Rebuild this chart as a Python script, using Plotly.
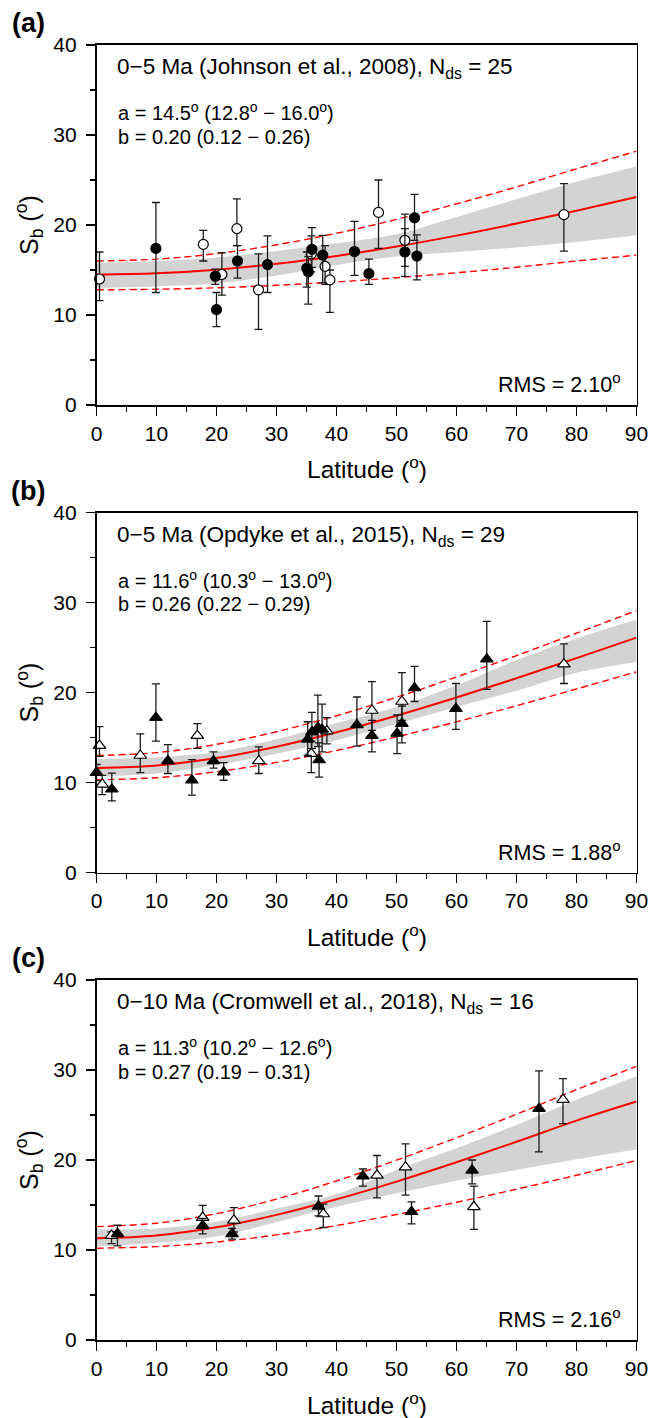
import plotly.graph_objects as go

PAGE_W, PAGE_H = 648, 1418
OFF = 0
W, H = PAGE_W - OFF, PAGE_H - OFF
FONT = "Liberation Sans, Arial, Helvetica, sans-serif"

# ---------------- data ----------------
lat_grid = [0, 10, 20, 30, 40, 50, 60, 70, 80, 90]

# Panel (a) Johnson et al. 2008
a_fit = [14.5, 14.64, 15.04, 15.69, 16.56, 17.61, 18.82, 20.16, 21.59, 23.11]
a_up = [16.0, 16.21, 16.82, 17.80, 19.08, 20.62, 22.35, 24.23, 26.24, 28.2]
a_lo = [12.8, 12.86, 13.02, 13.30, 13.67, 14.14, 14.69, 15.31, 16.0, 16.65]
a_band_hi = [15.8, 16.0, 16.4, 17.1, 17.96, 18.96, 20.9, 22.85, 24.8, 26.5]
a_band_lo = [13.0, 13.2, 13.5, 14.4, 15.56, 16.5, 17.0, 17.5, 18.1, 18.85]
a_f_lat = [9.9, 19.8, 20.0, 23.5, 28.5, 35.05, 35.3, 35.9, 37.7, 43.0, 45.4, 51.4, 53.0, 53.4]
a_f_sb = [17.4, 14.3, 10.6, 16.0, 15.6, 15.2, 14.8, 17.3, 16.65, 17.05, 14.6, 17.0, 20.8, 16.55]
a_f_lo = [12.5, 13.4, 8.7, 14.1, 12.5, 13.1, 11.2, 15.3, 13.6, 14.4, 13.4, 14.3, 18.3, 13.9]
a_f_hi = [22.5, 15.1, 12.5, 17.7, 18.8, 17.0, 16.5, 19.7, 18.85, 20.4, 16.2, 19.6, 23.4, 18.9]
a_o_lat = [0.5, 17.8, 20.9, 23.4, 27.0, 35.8, 38.1, 38.9, 47.0, 51.4, 77.9]
a_o_sb = [14.0, 17.85, 14.5, 19.6, 12.8, 16.8, 15.4, 13.9, 21.4, 18.3, 21.15]
a_o_lo = [11.6, 16.0, 12.2, 17.7, 8.4, 14.8, 13.4, 10.3, 17.4, 15.4, 17.1]
a_o_hi = [17.0, 19.4, 16.9, 22.9, 16.8, 18.8, 17.7, 15.0, 25.0, 21.2, 24.6]

# Panel (b) Opdyke et al. 2015
b_fit = [11.6, 11.89, 12.71, 13.98, 15.58, 17.42, 19.44, 21.58, 23.82, 26.1]
b_up = [13.0, 13.32, 14.24, 15.64, 17.42, 19.47, 21.72, 24.1, 26.59, 29.1]
b_lo = [10.3, 10.53, 11.2, 12.23, 13.55, 15.07, 16.74, 18.53, 20.39, 22.3]
b_band_hi = [12.6, 12.8, 13.4, 14.8, 16.6, 18.4, 20.8, 23.6, 26.0, 28.1]
b_band_lo = [10.7, 11.0, 11.94, 13.2, 14.7, 16.5, 18.4, 20.2, 22.2, 23.4]
b_f_lat = [0.0, 2.55, 9.9, 11.9, 15.9, 19.5, 21.2, 35.2, 35.9, 36.9, 37.1, 37.6, 43.4, 45.9, 50.1, 50.9, 53.0, 59.9, 65.05]
b_f_sb = [11.1, 9.25, 17.2, 12.4, 10.25, 12.4, 11.15, 14.8, 15.6, 16.1, 12.5, 15.9, 16.4, 15.2, 15.45, 16.55, 20.5, 18.2, 23.7]
b_f_lo = [10.2, 7.95, 14.6, 11.0, 8.6, 11.6, 10.25, 13.0, 13.8, 14.0, 10.6, 13.4, 14.05, 13.4, 13.2, 14.4, 19.0, 15.9, 20.35]
b_f_hi = [12.0, 11.05, 20.95, 14.2, 12.55, 13.4, 12.2, 16.75, 17.8, 19.7, 14.4, 18.7, 19.5, 16.9, 17.5, 18.5, 22.9, 21.0, 27.9]
b_o_lat = [0.5, 0.95, 7.3, 16.8, 27.05, 35.8, 38.4, 45.9, 50.9, 77.9]
b_o_sb = [14.1, 9.8, 13.0, 15.2, 12.4, 13.2, 15.7, 18.0, 19.0, 23.15]
b_o_lo = [12.9, 8.65, 11.1, 13.8, 11.0, 11.1, 14.3, 15.8, 16.9, 21.0]
b_o_hi = [16.2, 10.8, 15.4, 16.55, 13.95, 14.6, 17.2, 21.2, 22.2, 25.4]

# Panel (c) Cromwell et al. 2018
c_fit = [11.3, 11.62, 12.52, 13.90, 15.63, 17.6, 19.75, 22.02, 24.38, 26.5]
c_up = [12.6, 12.98, 14.04, 15.66, 17.68, 19.98, 22.47, 25.09, 27.82, 30.4]
c_lo = [10.2, 10.38, 10.88, 11.68, 12.72, 13.94, 15.30, 16.76, 18.31, 19.95]
c_band_hi = [12.3, 12.4, 13.15, 14.6, 16.2, 18.9, 21.3, 23.9, 26.7, 29.3]
c_band_lo = [10.4, 10.8, 11.5, 13.1, 14.8, 16.3, 17.7, 18.9, 20.07, 21.2]
c_f_lat = [3.5, 17.7, 22.6, 37.0, 44.4, 52.5, 62.6, 73.75]
c_f_sb = [11.8, 12.7, 11.8, 14.85, 18.2, 14.25, 18.85, 25.7]
c_f_lo = [10.45, 11.8, 11.2, 13.8, 17.1, 12.9, 17.35, 20.9]
c_f_hi = [12.75, 13.5, 12.4, 16.0, 19.0, 15.35, 20.0, 29.9]
c_o_lat = [2.5, 17.7, 22.9, 37.8, 46.75, 51.5, 62.9, 77.75]
c_o_sb = [11.6, 13.6, 13.3, 14.0, 18.3, 19.2, 14.8, 26.7]
c_o_lo = [10.7, 12.5, 12.0, 12.5, 15.8, 16.1, 12.3, 24.05]
c_o_hi = [12.0, 14.95, 14.7, 15.1, 20.5, 21.8, 17.1, 29.05]

x_ticks = [0, 10, 20, 30, 40, 50, 60, 70, 80, 90]
y_ticks = [0, 10, 20, 30, 40]

panel_letters = ["(a)", "(b)", "(c)"]
titles = ["0\u22125 Ma (Johnson et al., 2008), N<sub>ds</sub> = 25",
          "0\u22125 Ma (Opdyke et al., 2015), N<sub>ds</sub> = 29",
          "0\u221210 Ma (Cromwell et al., 2018), N<sub>ds</sub> = 16"]
a_texts = ["a = 14.5<sup>o</sup> (12.8<sup>o</sup> \u2212 16.0<sup>o</sup>)",
           "a = 11.6<sup>o</sup> (10.3<sup>o</sup> \u2212 13.0<sup>o</sup>)",
           "a = 11.3<sup>o</sup> (10.2<sup>o</sup> \u2212 12.6<sup>o</sup>)"]
b_texts = ["b = 0.20 (0.12 \u2212 0.26)",
           "b = 0.26 (0.22 \u2212 0.29)",
           "b = 0.27 (0.19 \u2212 0.31)"]
rms_texts = ["RMS = 2.10<sup>o</sup>", "RMS = 1.88<sup>o</sup>", "RMS = 2.16<sup>o</sup>"]

panels = [
    dict(fit=a_fit, up=a_up, lo=a_lo, bh=a_band_hi, bl=a_band_lo,
         f=(a_f_lat, a_f_sb, a_f_lo, a_f_hi), o=(a_o_lat, a_o_sb, a_o_lo, a_o_hi), sym="circle"),
    dict(fit=b_fit, up=b_up, lo=b_lo, bh=b_band_hi, bl=b_band_lo,
         f=(b_f_lat, b_f_sb, b_f_lo, b_f_hi), o=(b_o_lat, b_o_sb, b_o_lo, b_o_hi), sym="triangle-up"),
    dict(fit=c_fit, up=c_up, lo=c_lo, bh=c_band_hi, bl=c_band_lo,
         f=(c_f_lat, c_f_sb, c_f_lo, c_f_hi), o=(c_o_lat, c_o_sb, c_o_lo, c_o_hi), sym="triangle-up"),
]

# ---------------- layout geometry (page pixels) ----------------
X0, X1 = 96.5, 636.5
tops = [45.0, 512.5, 980.0]
PH = 360.0


def px(x):
    return (x - OFF) / W


def py(y):
    return 1 - (y - OFF) / H


fig = go.Figure()
layout = dict(width=W, height=H, margin=dict(l=0, r=0, t=0, b=0, autoexpand=False),
              paper_bgcolor="white", plot_bgcolor="white", showlegend=False,
              font=dict(family=FONT, color="black"))
annotations = []

for i, p in enumerate(panels):
    n = "" if i == 0 else str(i + 1)
    xa, ya = "x" + n, "y" + n
    top = tops[i]
    bot = top + PH
    layout["xaxis" + n] = dict(
        domain=[px(X0), px(X1)], range=[0, 90], anchor=ya, automargin=False,
        ticklabeloverflow="allow",
        tickmode="array", tickvals=x_ticks, ticks="outside", ticklen=9, tickwidth=1.5,
        tickcolor="black", showline=True, linewidth=1.6, linecolor="black", mirror=True,
        showgrid=False, zeroline=False, tickfont=dict(size=21, family=FONT, color="black"),
        minor=dict(dtick=5, tick0=0, ticks="outside", ticklen=5, tickwidth=1.5,
                   tickcolor="black", showgrid=False),
        fixedrange=True)
    layout["yaxis" + n] = dict(
        domain=[py(bot), py(top)], range=[0, 40], anchor=xa, automargin=False,
        ticklabeloverflow="allow",
        tickmode="array", tickvals=y_ticks, ticks="outside", ticklen=9, tickwidth=1.5,
        tickcolor="black", showline=True, linewidth=1.6, linecolor="black", mirror=True,
        showgrid=False, zeroline=False, tickfont=dict(size=21, family=FONT, color="black"),
        ticklabelstandoff=5,
        minor=dict(dtick=5, tick0=0, ticks="outside", ticklen=5, tickwidth=1.5,
                   tickcolor="black", showgrid=False),
        fixedrange=True)

    # gray band
    fig.add_trace(go.Scatter(x=lat_grid, y=p["bl"], mode="lines",
                             line=dict(width=0, color="#d3d3d3", shape="spline"),
                             xaxis=xa, yaxis=ya, hoverinfo="skip"))
    fig.add_trace(go.Scatter(x=lat_grid, y=p["bh"], mode="lines", fill="tonexty",
                             fillcolor="#d3d3d3",
                             line=dict(width=0, color="#d3d3d3", shape="spline"),
                             xaxis=xa, yaxis=ya, hoverinfo="skip"))
    # dashed bounds
    for arr in (p["up"], p["lo"]):
        fig.add_trace(go.Scatter(x=lat_grid, y=arr, mode="lines",
                                 line=dict(width=1.4, color="#ff0000", dash="7px,4px", shape="spline"),
                                 xaxis=xa, yaxis=ya, hoverinfo="skip"))
    # fitted curve
    fig.add_trace(go.Scatter(x=lat_grid, y=p["fit"], mode="lines",
                             line=dict(width=2, color="#ff0000", shape="spline"),
                             xaxis=xa, yaxis=ya, hoverinfo="skip"))

    size = 10 if p["sym"] == "circle" else 11
    for key, fill in (("o", "white"), ("f", "black")):
        lat, sb, lo, hi = p[key]
        fig.add_trace(go.Scatter(
            x=lat, y=sb, mode="markers", cliponaxis=False,
            marker=dict(symbol=p["sym"], size=size, color=fill,
                        line=dict(color="black", width=1.2)),
            error_y=dict(type="data", symmetric=False,
                         array=[h - s for h, s in zip(hi, sb)],
                         arrayminus=[s - l for s, l in zip(sb, lo)],
                         color="#1a1a1a", thickness=1.3, width=4),
            xaxis=xa, yaxis=ya))

    # texts
    annotations += [
        dict(text=titles[i], x=3.0, y=37.4, xref=xa, yref=ya, xanchor="left", yanchor="middle",
             showarrow=False, font=dict(size=22.5, family=FONT, color="black")),
        dict(text=a_texts[i], x=3.2, y=32.6, xref=xa, yref=ya, xanchor="left", yanchor="middle",
             showarrow=False, font=dict(size=20, family=FONT, color="black")),
        dict(text=b_texts[i], x=3.2, y=29.8, xref=xa, yref=ya, xanchor="left", yanchor="middle",
             showarrow=False, font=dict(size=20, family=FONT, color="black")),
        dict(text=rms_texts[i], x=87.8, y=2.4, xref=xa, yref=ya, xanchor="right", yanchor="middle",
             showarrow=False, font=dict(size=21.5, family=FONT, color="black")),
        dict(text="Latitude (<sup>o</sup>)", x=px((X0 + X1) / 2), y=py(bot + 63),
             xref="paper", yref="paper", xanchor="center", yanchor="middle",
             showarrow=False, font=dict(size=24.5, family=FONT, color="black")),
        dict(text="S<sub>b</sub> (<sup>o</sup>)", x=px(29), y=py(top + PH / 2),
             xref="paper", yref="paper", xanchor="center", yanchor="middle", textangle=-90,
             showarrow=False, font=dict(size=25, family=FONT, color="black")),
        dict(text="<b>" + panel_letters[i] + "</b>", x=px(28), y=py(top - 22),
             xref="paper", yref="paper", xanchor="center", yanchor="middle",
             showarrow=False, font=dict(size=27, family=FONT, color="black")),
    ]

layout["annotations"] = annotations
fig.update_layout(**layout)
# remove the default 8px page margin so the 648x1418 figure fills the window exactly
fig.write_html("out.html",
               config={"displayModeBar": False, "staticPlot": True},
               post_script="document.body.style.margin='0';document.body.style.overflow='hidden';")
